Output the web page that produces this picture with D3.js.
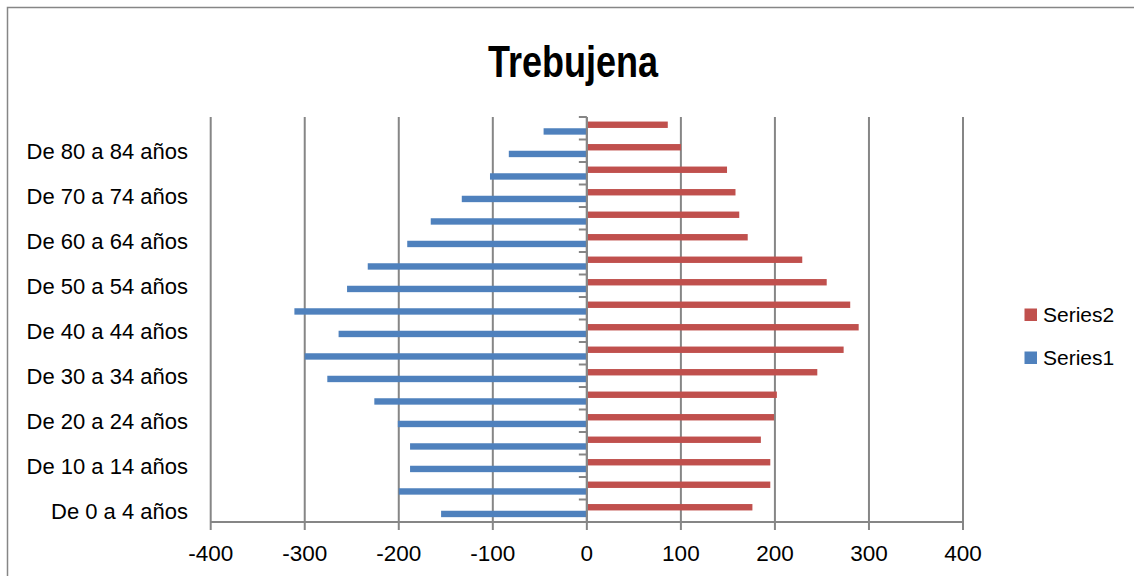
<!DOCTYPE html>
<html>
<head>
<meta charset="utf-8">
<script src="https://cdn.jsdelivr.net/npm/d3@7"></script>
<style>
  html, body { margin: 0; padding: 0; background: #fff; }
  svg { display: block; }
</style>
</head>
<body>
<svg id="chart" width="1134" height="576"></svg>
<script>
const categories = [
  "De 0 a 4 años", "De 5 a 9 años", "De 10 a 14 años", "De 15 a 19 años",
  "De 20 a 24 años", "De 25 a 29 años", "De 30 a 34 años", "De 35 a 39 años",
  "De 40 a 44 años", "De 45 a 49 años", "De 50 a 54 años", "De 55 a 59 años",
  "De 60 a 64 años", "De 65 a 69 años", "De 70 a 74 años", "De 75 a 79 años",
  "De 80 a 84 años", "De 85 y más años"
];
const series1 = [-155, -200, -188, -188, -201, -226, -276, -300, -264, -311, -255, -233, -191, -166, -133, -103, -83, -46];
const series2 = [175, 194, 194, 184, 198, 201, 244, 272, 288, 279, 254, 228, 170, 161, 157, 148, 99, 85];
const xTicks = [-400, -300, -200, -100, 0, 100, 200, 300, 400];
const xTickLabels = ["-400", "-300", "-200", "-100", "0", "100", "200", "300", "400"];
const seriesNames = ["Series2", "Series1"];
const seriesColors = { Series1: "#4F81BD", Series2: "#C0504D" };
const titleText = "Trebujena";

(function () {
const svg = d3.select("#chart");
const gray = "#868686";
const font = "'Liberation Sans', Arial, sans-serif";

// outer border
svg.append("rect").attr("x", 7.5).attr("y", 7.5).attr("width", 1200).attr("height", 700)
  .attr("fill", "none").attr("stroke", gray).attr("stroke-width", 1.5);

const pLeft = 210.7, pRight = 963, pTop = 117, pBottom = 522;
const x = d3.scaleLinear().domain([-400, 400]).range([pLeft, pRight]);
const y = d3.scaleBand().domain(categories).range([pBottom, pTop]).paddingInner(0.404).paddingOuter(0.202);
const yInner = d3.scaleBand().domain(seriesNames).range([0, y.bandwidth()]);
const yOuter = d3.scaleBand().domain(categories).range([pBottom, pTop]);

// gridlines
svg.append("g").selectAll("line").data(xTicks).join("line")
  .attr("x1", d => x(d)).attr("x2", d => x(d))
  .attr("y1", pTop).attr("y2", pBottom)
  .attr("stroke", gray).attr("stroke-width", 2);

// bars
const data = [];
categories.forEach((c, i) => {
  data.push({ cat: c, s: "Series1", v: series1[i] });
  data.push({ cat: c, s: "Series2", v: series2[i] });
});
svg.append("g").selectAll("rect").data(data).join("rect")
  .attr("x", d => Math.min(x(0), x(d.v)) + (d.v > 0 ? 1 : 0))
  .attr("width", d => Math.abs(x(d.v) - x(0)))
  .attr("y", d => y(d.cat) + yInner(d.s))
  .attr("height", yInner.bandwidth() - 0.3)
  .attr("fill", d => seriesColors[d.s]);

// vertical category axis at 0
const yAxisG = svg.append("g");
yAxisG.append("line").attr("x1", x(0)).attr("x2", x(0)).attr("y1", pTop).attr("y2", pBottom)
  .attr("stroke", gray).attr("stroke-width", 2);
const boundaries = categories.map(c => yOuter(c)).concat([pBottom]);
yAxisG.selectAll("line.tk").data(boundaries).join("line").attr("class", "tk")
  .attr("x1", x(0) - 8).attr("x2", x(0)).attr("y1", d => d).attr("y2", d => d)
  .attr("stroke", gray).attr("stroke-width", 2);

// category labels (every other)
svg.append("g").selectAll("text").data(categories).join("text")
  .attr("x", 188)
  .attr("y", d => yOuter(d) + yOuter.bandwidth() / 2 + 8.5)
  .attr("text-anchor", "end")
  .attr("font-family", font).attr("font-size", 22).attr("fill", "#000")
  .text((d, i) => i % 2 === 0 ? d : "");

// x axis
const xAxisG = svg.append("g");
xAxisG.append("line").attr("x1", pLeft).attr("x2", pRight).attr("y1", pBottom).attr("y2", pBottom)
  .attr("stroke", gray).attr("stroke-width", 2);
xAxisG.selectAll("line.tk").data(xTicks).join("line").attr("class", "tk")
  .attr("x1", d => x(d)).attr("x2", d => x(d)).attr("y1", pBottom).attr("y2", pBottom + 8)
  .attr("stroke", gray).attr("stroke-width", 2);
xAxisG.selectAll("text").data(xTicks).join("text")
  .attr("x", d => x(d)).attr("y", 561)
  .attr("text-anchor", "middle")
  .attr("font-family", font).attr("font-size", 22.5).attr("fill", "#000")
  .text((d, i) => xTickLabels[i]);

// title
svg.append("text").attr("x", 573).attr("y", 76.5)
  .attr("text-anchor", "middle")
  .attr("font-family", "'Liberation Sans Narrow', 'Liberation Sans', Arial, sans-serif")
  .attr("font-weight", "bold").attr("font-size", 44)
  .attr("textLength", 170).attr("lengthAdjust", "spacingAndGlyphs")
  .text(titleText);

// legend
const legend = svg.append("g");
const legendItems = ["Series2", "Series1"];
legendItems.forEach((s, i) => {
  const ly = 308.5 + i * 43;
  legend.append("rect").attr("x", 1024.5).attr("y", ly).attr("width", 12.5).attr("height", 12.5)
    .attr("fill", seriesColors[s]);
  legend.append("text").attr("x", 1043).attr("y", ly + 13.5)
    .attr("font-family", font).attr("font-size", 21).attr("fill", "#000")
    .text(s);
});
})();
</script>
</body>
</html>
